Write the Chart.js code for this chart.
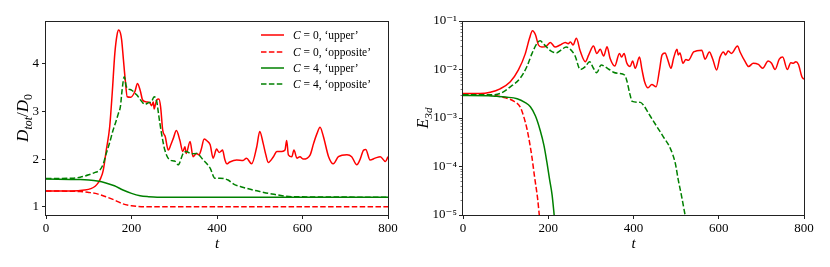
<!DOCTYPE html>
<html>
<head>
<meta charset="utf-8">
<script src="https://cdn.jsdelivr.net/npm/chart.js@4.4.1/dist/chart.umd.min.js"></script>
<style>
  body { margin: 0; background: #fff; }
  .wrap { position: relative; width: 830px; height: 267px; }
  canvas { position: absolute; top: 0; }
</style>
</head>
<body>
<div class="wrap">
  <canvas id="left" width="415" height="267" style="left:0"></canvas>
  <canvas id="right" width="415" height="267" style="left:415px"></canvas>
</div>
<script>
// left panel: D_tot / D_0 against t
const tLeftUpper0 = [0, 60, 90, 105, 115, 122, 128, 134, 141, 149, 155, 161, 166, 170, 174, 177, 181, 185, 190, 198, 208, 214, 221, 226, 235, 243, 247, 251, 253, 256, 259, 264, 268, 273, 279, 286, 292, 298, 305, 313, 320, 325, 328, 337, 344, 352, 358, 363, 370, 377, 384, 391, 399, 405, 409, 413, 418, 423, 430, 446, 461, 469, 481, 493, 500, 508, 514, 520, 532, 540, 552, 559, 563, 567, 575, 580, 587, 594, 602, 618, 626, 634, 641, 649, 661, 672, 684, 704, 715, 727, 735, 743, 748, 758, 770, 782, 794, 800];
const dLeftUpper0 = [1.33, 1.33, 1.35, 1.38, 1.43, 1.50, 1.60, 1.77, 2.19, 2.68, 3.40, 4.22, 4.60, 4.71, 4.65, 4.50, 4.10, 3.70, 3.31, 3.30, 3.42, 3.59, 3.42, 3.24, 3.20, 3.18, 3.12, 3.20, 3.05, 3.15, 3.24, 3.26, 3.10, 2.61, 2.47, 2.19, 2.30, 2.44, 2.60, 2.40, 2.16, 2.26, 2.12, 2.37, 2.05, 2.12, 2.09, 2.20, 2.42, 2.38, 2.30, 2.02, 2.21, 2.14, 2.16, 2.19, 2.00, 1.90, 1.94, 1.98, 1.97, 2.02, 1.90, 2.26, 2.58, 2.33, 2.10, 1.93, 2.05, 2.16, 2.16, 2.19, 2.39, 2.09, 2.05, 2.19, 2.02, 2.05, 2.00, 2.09, 2.33, 2.54, 2.67, 2.47, 2.05, 1.90, 2.05, 2.09, 2.05, 1.88, 2.00, 2.19, 2.20, 1.98, 2.02, 2.05, 1.95, 2.05];

const tLeftOpp0 = [0, 80, 100, 120, 140, 160, 180, 200, 230, 800];
const dLeftOpp0 = [1.33, 1.32, 1.30, 1.27, 1.21, 1.14, 1.06, 1.02, 1.00, 1.00];

const tLeftUpper4 = [0, 80, 100, 120, 140, 160, 180, 200, 220, 240, 260, 800];
const dLeftUpper4 = [1.58, 1.57, 1.56, 1.54, 1.50, 1.44, 1.35, 1.28, 1.23, 1.21, 1.20, 1.20];

const tLeftOpp4 = [0, 60, 80, 100, 115, 126, 134, 141, 149, 157, 164, 169, 174, 178, 183, 188, 200, 212, 224, 231, 239, 247, 253, 259, 264, 270, 278, 290, 301, 309, 321, 328, 340, 352, 368, 384, 395, 407, 426, 440, 460, 480, 500, 520, 540, 560, 580, 800];
const dLeftOpp4 = [1.59, 1.60, 1.62, 1.67, 1.72, 1.77, 1.90, 2.12, 2.35, 2.61, 2.80, 2.95, 3.10, 3.45, 3.73, 3.52, 3.45, 3.35, 3.21, 3.15, 3.18, 3.21, 3.31, 3.21, 2.90, 2.55, 2.19, 1.98, 1.96, 1.88, 2.12, 2.16, 2.11, 2.12, 1.98, 1.81, 1.60, 1.60, 1.56, 1.47, 1.41, 1.36, 1.32, 1.28, 1.25, 1.22, 1.21, 1.20];

// right panel: E_3d against t (log axis)
const tRightUpper0 = [0, 40, 64, 87, 111, 130, 146, 156, 163, 170, 177, 185, 195, 205, 216, 228, 240, 247, 252, 258, 266, 275, 287, 295, 306, 314, 322, 330, 338, 345, 356, 367, 372, 378, 384, 392, 398, 404, 414, 420, 426, 434, 443, 453, 461, 467, 474, 480, 488, 494, 502, 505, 509, 516, 523, 529, 541, 560, 568, 578, 586, 595, 603, 611, 616, 622, 630, 644, 650, 662, 670, 681, 693, 703, 716, 724, 732, 742, 750, 761, 769, 775, 781, 787, 795, 800];
const eRightUpper0 = [3.2e-3, 3.2e-3, 3.4e-3, 4.0e-3, 5.6e-3, 9.8e-3, 2.1e-2, 4.4e-2, 6.3e-2, 5.2e-2, 3.2e-2, 2.9e-2, 3.0e-2, 3.6e-2, 2.9e-2, 3.2e-2, 3.6e-2, 3.4e-2, 3.7e-2, 3.2e-2, 4.4e-2, 2.4e-2, 1.45e-2, 2.0e-2, 3.05e-2, 2.15e-2, 2.6e-2, 1.9e-2, 2.95e-2, 1.7e-2, 1.18e-2, 2.15e-2, 1.8e-2, 2.15e-2, 1.38e-2, 1.15e-2, 1.5e-2, 1.06e-2, 1.8e-2, 9.8e-3, 5.6e-3, 4.2e-3, 4.9e-3, 4.4e-3, 9.8e-3, 2.0e-2, 2.2e-2, 1.63e-2, 1.06e-2, 1.7e-2, 2.6e-2, 2.0e-2, 2.2e-2, 1.35e-2, 1.6e-2, 1.55e-2, 2.3e-2, 2.5e-2, 1.63e-2, 2.3e-2, 1.63e-2, 9.8e-3, 1.8e-2, 2.3e-2, 2.0e-2, 2.4e-2, 2.15e-2, 3.05e-2, 2.3e-2, 1.45e-2, 1.15e-2, 1.35e-2, 1.27e-2, 1.06e-2, 1.5e-2, 1.35e-2, 1.0e-2, 1.63e-2, 1.8e-2, 1.0e-2, 1.38e-2, 1.35e-2, 1.45e-2, 1.27e-2, 7.1e-3, 6.3e-3];

const tRightOpp0 = [0, 60, 80, 100, 120, 134, 142, 150, 156, 162, 168, 175, 179, 183];
const eRightOpp0 = [3.0e-3, 2.95e-3, 2.85e-3, 2.6e-3, 2.2e-3, 1.7e-3, 1.1e-3, 6.0e-4, 3.2e-4, 1.5e-4, 6.0e-5, 2.2e-5, 1.0e-5, 5.0e-6];

const tRightUpper4 = [0, 60, 80, 100, 127, 145, 158, 170, 181, 190, 197, 203, 209, 213, 217];
const eRightUpper4 = [2.9e-3, 2.88e-3, 2.8e-3, 2.7e-3, 2.5e-3, 2.1e-3, 1.7e-3, 1.1e-3, 5.6e-4, 2.7e-4, 1.2e-4, 5.5e-5, 2.6e-5, 1.2e-5, 5.0e-6];

const tRightOpp4 = [0, 60, 87, 111, 134, 150, 162, 174, 181, 190, 205, 219, 232, 242, 252, 263, 275, 287, 297, 306, 314, 324, 333, 343, 353, 365, 379, 384, 392, 397, 416, 423, 435, 455, 470, 486, 498, 505, 513, 521, 526];
const eRightOpp4 = [3.0e-3, 3.0e-3, 3.2e-3, 4.4e-3, 6.6e-3, 1.15e-2, 2.15e-2, 3.5e-2, 3.9e-2, 3.3e-2, 2.45e-2, 2.2e-2, 2.6e-2, 2.9e-2, 2.6e-2, 1.9e-2, 1.0e-2, 1.15e-2, 1.45e-2, 1.06e-2, 8.6e-3, 1.24e-2, 1.15e-2, 1.0e-2, 8.8e-3, 8.3e-3, 7.7e-3, 6.0e-3, 3.0e-3, 2.2e-3, 2.1e-3, 1.86e-3, 1.26e-3, 6.6e-4, 4.1e-4, 2.4e-4, 1.17e-4, 5.3e-5, 2.4e-5, 1.0e-5, 6.0e-6];

const xTicks = [0, 200, 400, 600, 800];
const leftYTicks = [1, 2, 3, 4];
const rightYTicks = [1e-5, 1e-4, 1e-3, 1e-2, 1e-1];
const legendLabels = [['0', '‘upper’'], ['0', '‘opposite’'], ['4', '‘upper’'], ['4', '‘opposite’']];

const RED = '#ff0000';
const GREEN = '#008000';
const DASH = [5.5, 2.4];
const FONT = '"Liberation Serif", "DejaVu Serif", serif';

const pts = (ts, vs) => ts.map((t, i) => ({ x: t, y: vs[i] }));

function line(data, color, dashed, order) {
  return {
    data,
    borderColor: color,
    borderWidth: 1.5,
    borderDash: dashed ? DASH : [],
    pointRadius: 0,
    cubicInterpolationMode: 'monotone',
    fill: false,
    order
  };
}

// text with italic letters and subscripts, centred on (x, y)
function drawRuns(ctx, runs, x, y, angle, size) {
  const fontOf = st => (st.includes('i') ? 'italic ' : '') + (st[0] === 's' ? size * 0.7 : size) + 'px ' + FONT;
  ctx.save();
  ctx.translate(x, y);
  ctx.rotate(angle);
  ctx.textBaseline = 'alphabetic';
  ctx.fillStyle = '#000';
  let w = 0;
  runs.forEach(([txt, st]) => { ctx.font = fontOf(st); w += ctx.measureText(txt).width; });
  let cx = -w / 2;
  runs.forEach(([txt, st]) => {
    ctx.font = fontOf(st);
    ctx.fillText(txt, cx, size * 0.35 + (st[0] === 's' ? size * 0.25 : 0));
    cx += ctx.measureText(txt).width;
  });
  ctx.restore();
}

function framePlugin(yLabel, legend) {
  return {
    id: 'frame',
    afterDraw(chart) {
      const { ctx, chartArea: a } = chart;
      ctx.save();
      ctx.strokeStyle = '#222';
      ctx.lineWidth = 1;
      ctx.strokeRect(Math.round(a.left) - 0.5, Math.round(a.top) + 0.5, Math.round(a.right - a.left) + 1, Math.round(a.bottom - a.top));
      ctx.restore();

      const cx = (a.left + a.right) / 2;
      drawRuns(ctx, [['t', 'i']], cx, 243, 0, 15);
      drawRuns(ctx, yLabel.runs, yLabel.x, (a.top + a.bottom) / 2, -Math.PI / 2, yLabel.size);

      if (chart.scales.y.type === 'logarithmic') {
        // minor ticks of the log axis
        const ys = chart.scales.y;
        ctx.save();
        ctx.strokeStyle = '#222';
        ctx.lineWidth = 0.6;
        for (let k = -5; k <= -2; k++) {
          for (let m = 2; m <= 9; m++) {
            const py = Math.round(ys.getPixelForValue(m * Math.pow(10, k))) + 0.5;
            ctx.beginPath();
            ctx.moveTo(a.left - 2.5, py);
            ctx.lineTo(a.left, py);
            ctx.stroke();
          }
        }
        ctx.restore();
      }

      if (legend) {
        const rows = [35, 52, 68, 84];
        const styles = [[RED, false], [RED, true], [GREEN, false], [GREEN, true]];
        legendLabels.forEach(([c, kind], i) => {
          ctx.save();
          ctx.strokeStyle = styles[i][0];
          ctx.lineWidth = 1.5;
          ctx.setLineDash(styles[i][1] ? DASH : []);
          ctx.beginPath();
          ctx.moveTo(261, rows[i]);
          ctx.lineTo(284, rows[i]);
          ctx.stroke();
          ctx.restore();
          ctx.save();
          ctx.fillStyle = '#000';
          ctx.textBaseline = 'middle';
          ctx.font = 'italic 11.5px ' + FONT;
          ctx.fillText('C', 293, rows[i] + 0.5);
          const w = ctx.measureText('C').width;
          ctx.font = '11.5px ' + FONT;
          ctx.fillText(' = ' + c + ', ' + kind, 293 + w, rows[i] + 0.5);
          ctx.restore();
        });
      }
    }
  };
}

const supDigits = { '-': '⁻', '0': '⁰', '1': '¹', '2': '²', '3': '³', '4': '⁴', '5': '⁵' };
const logLabel = v => '10' + String(Math.round(Math.log10(v))).split('').map(c => supDigits[c]).join('');

function options(yScale, yWidth, padRight) {
  return {
    responsive: false,
    animation: false,
    devicePixelRatio: 1,
    layout: { padding: { top: 21, right: padRight, left: 0, bottom: 0 } },
    plugins: { legend: { display: false }, tooltip: { enabled: false } },
    scales: {
      x: {
        type: 'linear',
        min: 0,
        max: 800,
        afterBuildTicks: s => { s.ticks = xTicks.map(v => ({ value: v })); },
        afterFit: s => { s.height = 52; },
        border: { display: false },
        grid: { drawOnChartArea: false, tickLength: 4, color: '#222', tickWidth: 1 },
        ticks: { color: '#000', font: { family: FONT, size: 13 }, padding: 2, maxRotation: 0 }
      },
      y: Object.assign({
        afterFit: s => { s.width = yWidth; },
        border: { display: false },
        grid: { drawOnChartArea: false, tickLength: 4, color: '#222', tickWidth: 1 }
      }, yScale)
    }
  };
}

new Chart(document.getElementById('left'), {
  type: 'line',
  data: {
    datasets: [
      line(pts(tLeftUpper0, dLeftUpper0), RED, false, 3),
      line(pts(tLeftOpp0, dLeftOpp0), RED, true, 2),
      line(pts(tLeftUpper4, dLeftUpper4), GREEN, false, 1),
      line(pts(tLeftOpp4, dLeftOpp4), GREEN, true, 0)
    ]
  },
  options: options({
    type: 'linear',
    min: 0.826,
    max: 4.9,
    afterBuildTicks: s => { s.ticks = leftYTicks.map(v => ({ value: v })); },
    ticks: { color: '#000', font: { family: FONT, size: 13 }, padding: 3 }
  }, 46, 27),
  plugins: [framePlugin({ x: 22, size: 17, runs: [['D', 'i'], ['tot', 'si'], ['/', 'r'], ['D', 'i'], ['0', 'sr']] }, true)]
});

new Chart(document.getElementById('right'), {
  type: 'line',
  data: {
    datasets: [
      line(pts(tRightUpper0, eRightUpper0), RED, false, 3),
      line(pts(tRightOpp0, eRightOpp0), RED, true, 2),
      line(pts(tRightUpper4, eRightUpper4), GREEN, false, 1),
      line(pts(tRightOpp4, eRightOpp4), GREEN, true, 0)
    ]
  },
  options: options({
    type: 'logarithmic',
    min: 1e-5,
    max: 1e-1,
    afterBuildTicks: s => { s.ticks = rightYTicks.map(v => ({ value: v })); },
    ticks: { color: '#000', font: { family: FONT, size: 13 }, padding: 2, callback: v => logLabel(v) }
  }, 48, 26),
  plugins: [framePlugin({ x: 7, size: 16, runs: [['E', 'i'], ['3d', 'si']] }, false)]
});
</script>
</body>
</html>
